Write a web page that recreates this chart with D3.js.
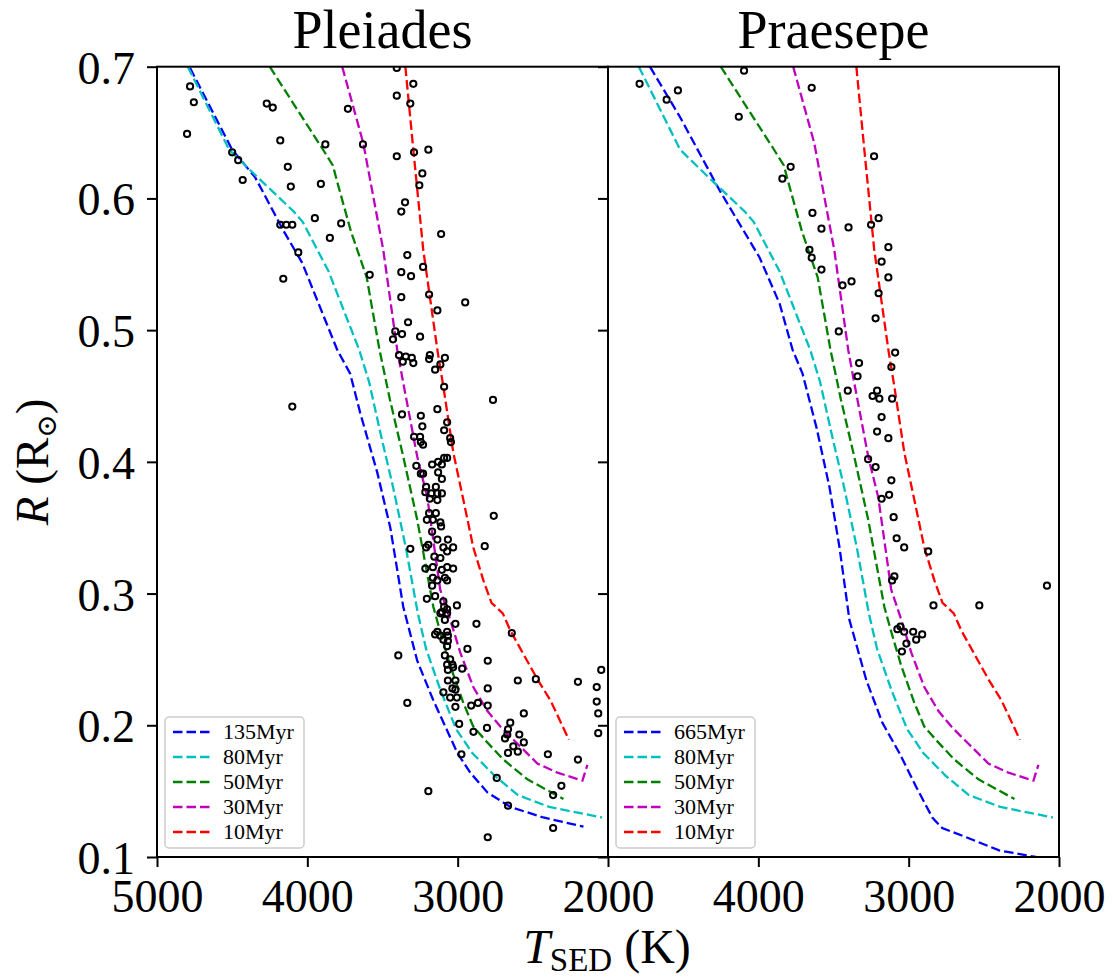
<!DOCTYPE html>
<html>
<head>
<meta charset="utf-8">
<script src="https://cdn.jsdelivr.net/npm/d3@7"></script>
<style>
  body { margin: 0; background: #fff; }
  svg text { font-family: "Liberation Serif", "DejaVu Serif", serif; fill: #000; }
</style>
</head>
<body>
<div id="chart"></div>
<script>
// isochrones, [T_SED (K), R (Rsun)]
const iso135 = [[4780,0.699],[4500,0.637],[4347,0.616],[4161,0.576],[4034,0.551],[3801,0.485],[3715,0.467],[3648,0.437],[3535,0.392],[3448,0.350],[3362,0.290],[3269,0.249],[3162,0.219],[3002,0.179],[2916,0.164],[2802,0.149],[2649,0.138],[2430,0.130],[2163,0.123]];
const iso665 = [[4721,0.700],[4522,0.662],[4257,0.606],[3991,0.555],[3858,0.520],[3772,0.485],[3706,0.467],[3613,0.426],[3527,0.381],[3460,0.335],[3394,0.280],[3281,0.234],[3175,0.202],[3062,0.179],[2949,0.153],[2843,0.130],[2777,0.122],[2617,0.115],[2398,0.105],[2153,0.100]];
const iso80 = [[4795,0.700],[4520,0.637],[4340,0.617],[4090,0.590],[4030,0.582],[3860,0.545],[3655,0.485],[3590,0.461],[3510,0.420],[3430,0.381],[3345,0.335],[3265,0.285],[3210,0.258],[3112,0.226],[3010,0.197],[2903,0.179],[2757,0.162],[2600,0.147],[2390,0.138],[2040,0.130]];
const iso50 = [[4250,0.700],[3890,0.636],[3830,0.625],[3800,0.612],[3710,0.575],[3605,0.540],[3520,0.485],[3450,0.447],[3362,0.404],[3269,0.356],[3162,0.290],[3116,0.271],[3049,0.245],[2962,0.217],[2896,0.199],[2803,0.187],[2696,0.174],[2536,0.159],[2296,0.144]];
const iso30 = [[3768,0.700],[3628,0.642],[3495,0.561],[3402,0.485],[3362,0.460],[3269,0.404],[3202,0.373],[3116,0.303],[3049,0.280],[2982,0.255],[2896,0.229],[2803,0.211],[2716,0.199],[2629,0.189],[2470,0.171],[2336,0.164],[2170,0.158],[2137,0.170]];
const iso10 = [[3348,0.700],[3295,0.637],[3229,0.561],[3135,0.485],[3095,0.457],[3029,0.407],[2962,0.371],[2896,0.335],[2829,0.310],[2775,0.293],[2700,0.285],[2650,0.272],[2470,0.235],[2383,0.219],[2260,0.189]];

// measured stars
const pleiadesStars = [[4780,0.685],[4755,0.673],[4800,0.649],[4270,0.672],[4230,0.669],[4180,0.644],[4130,0.624],[4110,0.609],[4500,0.635],[4460,0.629],[4430,0.614],[4180,0.580],[4140,0.580],[4100,0.580],[4060,0.559],[4160,0.539],[3950,0.585],[3910,0.611],[3880,0.641],[3850,0.570],[3775,0.581],[3730,0.668],[3630,0.641],[3585,0.542],
[3405,0.699],[3295,0.687],[3405,0.678],[3315,0.672],[3405,0.632],[3290,0.635],[3195,0.637],[3235,0.619],[3255,0.610],[3350,0.597],[3375,0.590],[3110,0.573],[3335,0.557],[3230,0.548],[3375,0.544],[3310,0.541],[3190,0.527],[3375,0.525],[3135,0.515],[2950,0.521],[3330,0.506],[3415,0.499],[3370,0.497],[3430,0.493],[3250,0.495],
[3390,0.481],[3345,0.480],[3305,0.479],[3365,0.476],[3295,0.475],[3185,0.481],[3190,0.478],[3085,0.479],[3115,0.474],[3150,0.470],[3090,0.457],[4100,0.442],[2765,0.447],[3135,0.440],[3370,0.436],[3245,0.435],[3235,0.427],[3290,0.419],[3250,0.419],[3245,0.415],[3230,0.413],[3070,0.430],[3090,0.424],[3050,0.418],[3045,0.415],
[3275,0.397],[3170,0.398],[3130,0.400],[3090,0.403],[3070,0.403],[3105,0.398],[3130,0.392],[3105,0.387],[3245,0.391],[3230,0.391],[3210,0.381],[3145,0.381],[3215,0.377],[3175,0.376],[3135,0.376],[3105,0.376],[3185,0.372],[3135,0.371],[2760,0.359],[3190,0.361],[3145,0.361],[3205,0.356],[3165,0.356],[3115,0.354],[3110,0.351],[3170,0.347],[3135,0.341],
[3315,0.334],[3210,0.335],[3195,0.337],[3065,0.341],[3095,0.335],[3070,0.332],[3030,0.335],[2820,0.336],[3155,0.328],[3115,0.327],[3165,0.320],[3215,0.319],[3105,0.318],[3070,0.320],[3030,0.319],[3165,0.312],[3135,0.310],[3085,0.312],[3070,0.310],[3170,0.306],[3150,0.298],[3205,0.296],[3095,0.294],[3090,0.290],[3005,0.291],[3105,0.286],[3070,0.285],
[3070,0.288],[3115,0.285],[3085,0.280],[3015,0.277],[2875,0.277],[3135,0.271],[3150,0.269],[3115,0.268],[3070,0.271],[3065,0.268],[3095,0.265],[3065,0.264],[3070,0.260],[2640,0.270],[2935,0.258],[3395,0.253],[2800,0.249],[3085,0.253],[3050,0.250],[3070,0.246],[3035,0.246],[3065,0.242],[3030,0.244],[2970,0.243],
[2600,0.234],[2480,0.235],[2200,0.233],[2045,0.242],[2075,0.229],[2075,0.218],[2065,0.209],[2065,0.194],[3065,0.234],[3015,0.234],[3035,0.228],[3095,0.225],[3015,0.227],[3050,0.221],[3005,0.221],[3015,0.214],[2800,0.228],[3335,0.217],[2910,0.215],[2865,0.217],[2800,0.215],[2560,0.209],
[2990,0.201],[2805,0.198],[2895,0.195],[2650,0.202],[2665,0.197],[2670,0.193],[2685,0.190],[2590,0.193],[2560,0.187],[2630,0.184],[2600,0.180],[2665,0.179],[2400,0.178],[2975,0.178],[2200,0.174],[2740,0.160],[2310,0.154],[2365,0.147],[3195,0.150],[2665,0.139],[2365,0.122],[2800,0.115]];

const praesepeStars = [[4790,0.687],[4610,0.675],[4535,0.682],[4095,0.697],[4130,0.662],[3645,0.684],[3785,0.624],[3840,0.615],[3230,0.632],[3640,0.589],[3580,0.577],[3400,0.578],[3250,0.580],[3200,0.585],[3135,0.563],[3660,0.561],[3645,0.555],[3180,0.552],[3580,0.546],[3135,0.540],[3440,0.534],[3380,0.537],[3200,0.528],[3220,0.509],[3465,0.499],
[3090,0.483],[3330,0.475],[3115,0.472],[3340,0.465],[3405,0.454],[3210,0.454],[3240,0.450],[3195,0.448],[3110,0.448],[3180,0.434],[3210,0.423],[3135,0.418],[3270,0.402],[3220,0.396],[3115,0.386],[3130,0.375],[3180,0.372],[3100,0.358],[3080,0.342],[3030,0.335],[2870,0.332],[3095,0.313],[3110,0.310],[2080,0.306],[2835,0.291],[2530,0.291],
[3075,0.273],[3055,0.275],[3030,0.271],[2970,0.271],[2910,0.269],[2950,0.265],[3015,0.262],[3045,0.256]];

const panelTitles = ["Pleiades", "Praesepe"];
const ageLabelsPleiades = ["135Myr", "80Myr", "50Myr", "30Myr", "10Myr"];
const ageLabelsPraesepe = ["665Myr", "80Myr", "50Myr", "30Myr", "10Myr"];
const lineColors = ["#0000ff", "#00bfbf", "#008000", "#bf00bf", "#ff0000"];
const yTicks = [0.1, 0.2, 0.3, 0.4, 0.5, 0.6, 0.7];
const xTicksLeft = [5000, 4000, 3000, 2000];
const xTicksRight = [4000, 3000, 2000];

const W = 1113, H = 978;
const plotTop = 66.7, plotBottom = 857, panelW = 451;
const panels = [
  {x0: 157, title: panelTitles[0], stars: pleiadesStars, lines: [iso135, iso80, iso50, iso30, iso10], labels: ageLabelsPleiades, xTicks: xTicksLeft, yLabels: true},
  {x0: 608, title: panelTitles[1], stars: praesepeStars, lines: [iso665, iso80, iso50, iso30, iso10], labels: ageLabelsPraesepe, xTicks: xTicksRight, yLabels: false}
];

const svg = d3.select("#chart").append("svg")
  .attr("width", W).attr("height", H);

const yScale = d3.scaleLinear().domain([0.1, 0.7]).range([plotBottom, plotTop]);

panels.forEach((p, i) => {
  const xScale = d3.scaleLinear().domain([5000, 2000]).range([p.x0, p.x0 + panelW]);

  const clipId = "clip" + i;
  svg.append("clipPath").attr("id", clipId)
    .append("rect").attr("x", p.x0).attr("y", plotTop)
    .attr("width", panelW).attr("height", plotBottom - plotTop);

  const plot = svg.append("g").attr("clip-path", `url(#${clipId})`);

  const line = d3.line().x(d => xScale(d[0])).y(d => yScale(d[1]));

  plot.selectAll(".iso")
    .data(p.lines)
    .join("path")
    .attr("class", "iso")
    .attr("d", line)
    .attr("fill", "none")
    .attr("stroke", (d, k) => lineColors[k])
    .attr("stroke-width", 2.3)
    .attr("stroke-dasharray", "9.5,4");

  plot.selectAll(".star")
    .data(p.stars)
    .join("circle")
    .attr("class", "star")
    .attr("cx", d => xScale(d[0]))
    .attr("cy", d => yScale(d[1]))
    .attr("r", 3.1)
    .attr("fill", "none")
    .attr("stroke", "#000")
    .attr("stroke-width", 2);

  // axes
  const yAxis = d3.axisLeft(yScale).tickValues(yTicks).tickSize(10).tickSizeOuter(0).tickPadding(12)
    .tickFormat(p.yLabels ? d3.format(".1f") : () => "");
  const yG = svg.append("g").attr("transform", `translate(${p.x0},0)`).call(yAxis);

  const xAxis = d3.axisBottom(xScale).tickValues(p.xTicks).tickSize(10).tickSizeOuter(0).tickPadding(12)
    .tickFormat(d3.format("d"));
  const xG = svg.append("g").attr("transform", `translate(0,${plotBottom})`).call(xAxis);

  [yG, xG].forEach(g => {
    g.select(".domain").remove();
    g.selectAll(".tick line").attr("stroke", "#000").attr("stroke-width", 2);
    g.selectAll(".tick text").attr("font-size", 46).attr("font-family", "Liberation Serif, serif");
  });
  yG.selectAll(".tick text").attr("dy", "0.36em");

  svg.append("rect")
    .attr("x", p.x0).attr("y", plotTop)
    .attr("width", panelW).attr("height", plotBottom - plotTop)
    .attr("fill", "none").attr("stroke", "#000").attr("stroke-width", 2);

  svg.append("text")
    .attr("x", p.x0 + panelW / 2).attr("y", 48)
    .attr("text-anchor", "middle")
    .attr("font-size", 54)
    .text(p.title);

  // legend
  const lg = svg.append("g").attr("transform", `translate(${p.x0 + 8},717)`);
  lg.append("rect")
    .attr("width", 139).attr("height", 131).attr("rx", 4)
    .attr("fill", "#fff").attr("fill-opacity", 0.8)
    .attr("stroke", "#cccccc").attr("stroke-width", 1.5);
  const items = lg.selectAll(".item").data(p.labels).join("g")
    .attr("class", "item")
    .attr("transform", (d, k) => `translate(0,${15 + k * 25})`);
  items.append("line")
    .attr("x1", 8).attr("x2", 45)
    .attr("stroke", (d, k) => lineColors[k])
    .attr("stroke-width", 2.3)
    .attr("stroke-dasharray", "9.5,4");
  items.append("text")
    .attr("x", 58).attr("y", 7)
    .attr("font-size", 22)
    .text(d => d);
});

// axis labels
const yLab = svg.append("text")
  .attr("transform", `translate(48,${(plotTop + plotBottom) / 2}) rotate(-90)`)
  .attr("text-anchor", "middle")
  .attr("font-size", 47);
yLab.append("tspan").attr("font-style", "italic").text("R");
yLab.append("tspan").text(" (R");
yLab.append("tspan").attr("font-size", 28).attr("dy", 8).attr("font-family", "DejaVu Serif, serif").text("\u2299");
yLab.append("tspan").attr("dy", -8).text(")");

const xLab = svg.append("text")
  .attr("x", 607).attr("y", 963)
  .attr("text-anchor", "middle")
  .attr("font-size", 48);
xLab.append("tspan").attr("font-style", "italic").text("T");
xLab.append("tspan").attr("font-size", 33).attr("dy", 8).text("SED");
xLab.append("tspan").attr("dy", -8).text(" (K)");
</script>
</body>
</html>
